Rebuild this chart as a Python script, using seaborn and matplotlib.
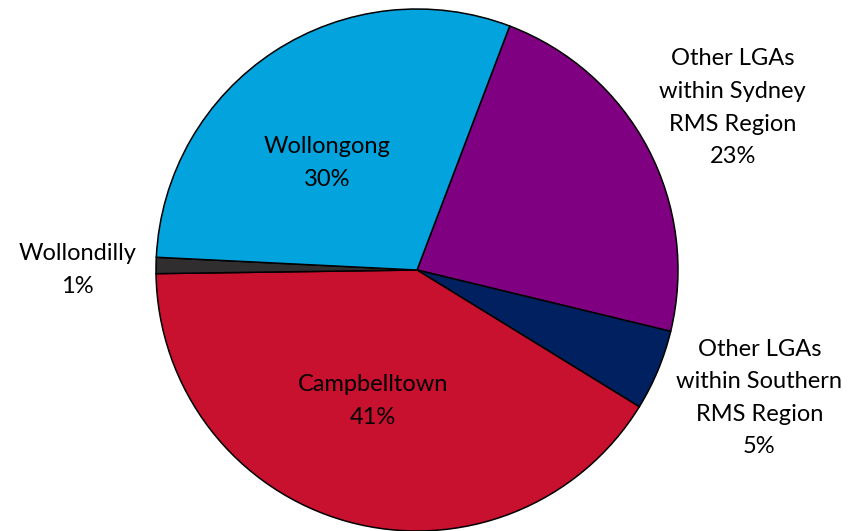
import numpy as np
import matplotlib
matplotlib.use('Agg')
import matplotlib.pyplot as plt
import seaborn as sns

# Data
regions = ['Other LGAs\nwithin Sydney\nRMS Region',
           'Other LGAs\nwithin Southern\nRMS Region',
           'Campbelltown',
           'Wollondilly',
           'Wollongong']
shares = [23, 5, 41, 1, 30]
slice_colors = ['#7F0080', '#002060', '#C8102F', '#302E2E', '#03A3DE']

# label layout: distance from centre (radius units) and angle nudge (deg)
label_dist = [1.36, 1.40, 0.53, 1.30, 0.535]
label_nudge = [-0.6, 2.1, -3.1, 1.0, 6.9]


def make_chart():
    sns.set_theme(style='white')
    plt.rcParams['font.family'] = ['Lato', 'DejaVu Sans']

    fig = plt.figure(figsize=(8.49, 5.31), dpi=100)
    ax = fig.add_axes([0, 0, 1, 1])

    wedges, _ = ax.pie(shares, colors=sns.color_palette(slice_colors),
                       startangle=69.2, counterclock=False, radius=1.0,
                       wedgeprops=dict(edgecolor='black', linewidth=1.1))

    for w, name, pct, d, nudge in zip(wedges, regions, shares, label_dist, label_nudge):
        ang = np.deg2rad((w.theta1 + w.theta2) / 2 + nudge)
        ax.text(d * np.cos(ang), d * np.sin(ang), f'{name}\n{pct}%',
                ha='center', va='center', fontsize=17, color='black',
                linespacing=1.68)

    # centre at (417, 270) px, radius 261 px
    ax.set_xlim(-417 / 261, (849 - 417) / 261)
    ax.set_ylim(-(531 - 270) / 261, 270 / 261)
    ax.set_aspect('auto')
    ax.axis('off')

    fig.savefig('out.png', dpi=100)
    plt.close(fig)


if __name__ == "__main__":
    make_chart()
